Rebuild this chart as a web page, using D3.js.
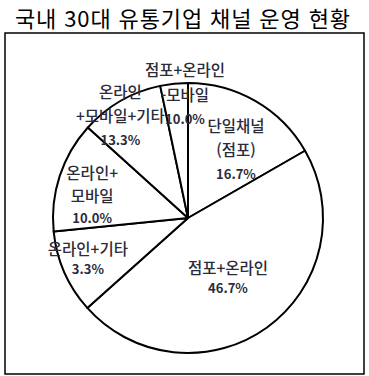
<!DOCTYPE html>
<html lang="ko">
<head>
<meta charset="UTF-8">
<title>국내 30대 유통기업 채널 운영 현황</title>
<style>
  body { margin: 0; background: #fff; }
  text { font-family: "Noto Sans CJK KR", "Noto Sans", sans-serif; }
</style>
</head>
<body>
<div class="canvas"></div>
<script src="https://cdnjs.cloudflare.com/ajax/libs/d3/7.8.2/d3.min.js"></script>
<script>
  // slices as they are drawn in the picture, clockwise from 12 o'clock
  const sliceValues = [16.7, 46.7, 10.0, 13.3, 10.0, 3.3];

  // labels (text as printed), with their percentage
  const labelTexts = [
    ["단일채널", "(점포)"],
    ["점포+온라인"],
    ["온라인+기타"],
    ["온라인+", "모바일"],
    ["온라인", "+모바일+기타"],
    ["점포+온라인", "-모바일"]
  ];
  const labelPcts = ["16.7%", "46.7%", "3.3%", "10.0%", "13.3%", "10.0%"];

  const width = 369, height = 376;
  const cx = 188, cy = 218, radius = 135;

  const svg = d3.select(".canvas").append("svg")
    .attr("width", width).attr("height", height);

  svg.append("text")
    .attr("x", 15).attr("y", 17)
    .attr("dominant-baseline", "central")
    .attr("font-size", "22px")
    .attr("textLength", 335)
    .attr("lengthAdjust", "spacing")
    .attr("fill", "#000")
    .text("국내 30대 유통기업 채널 운영 현황");

  svg.append("rect")
    .attr("x", 5).attr("y", 33)
    .attr("width", 359).attr("height", 341)
    .attr("fill", "none")
    .attr("stroke", "#000")
    .attr("stroke-width", 1.5);

  const pie = d3.pie().sort(null).value(d => d);
  const arc = d3.arc().innerRadius(0).outerRadius(radius);

  const graph = svg.append("g").attr("transform", `translate(${cx}, ${cy})`);

  graph.selectAll("path")
    .data(pie(sliceValues))
    .enter().append("path")
    .attr("d", arc)
    .attr("fill", "#fff")
    .attr("stroke", "#000")
    .attr("stroke-width", 2)
    .attr("stroke-linejoin", "round");

  // label placement: angle (deg, clockwise from top), radius fraction, line spacing
  const labelAngle = [35, 146, 248, 283.5, 326.6, 358.6];
  const labelRadius = [0.62, 0.53, 0.80, 0.73, 0.91, 0.92];
  const labelGap = [24, 21, 20, 23, 24, 25];

  labelTexts.forEach((lines, i) => {
    const p = d3.pointRadial(labelAngle[i] * Math.PI / 180, labelRadius[i] * radius);
    const all = lines.concat([labelPcts[i]]);
    const n = all.length;
    const g = graph.append("g").attr("transform", `translate(${p[0]}, ${p[1]})`);
    all.forEach((t, j) => {
      const isPct = j === n - 1;
      g.append("text")
        .attr("x", 0)
        .attr("y", (j - (n - 1) / 2) * labelGap[i])
        .attr("text-anchor", "middle")
        .attr("dominant-baseline", "central")
        .attr("font-size", isPct ? "13px" : "15.5px")
        .attr("font-weight", isPct ? 700 : 500)
        .attr("fill", "#2b2b3a")
        .text(t);
    });
  });
</script>
</body>
</html>
